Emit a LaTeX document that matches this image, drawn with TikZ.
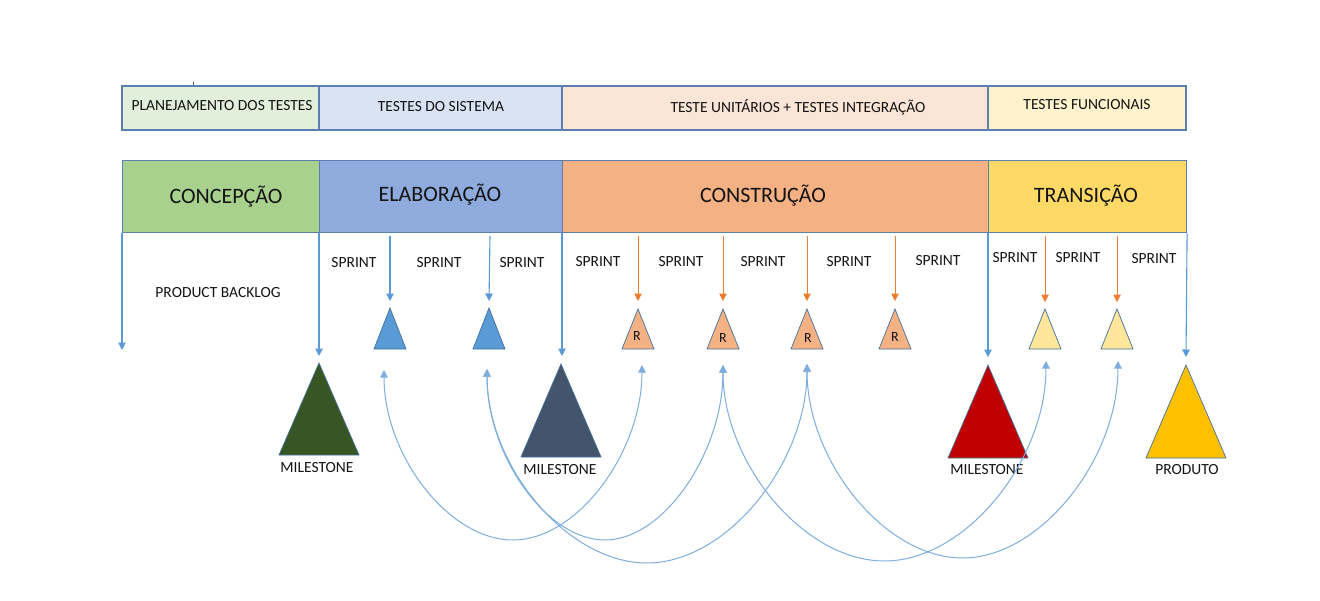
\documentclass[tikz,border=0pt]{standalone}
\usepackage{fontspec}
\setmainfont{Carlito}
\usetikzlibrary{arrows.meta,calc}
\definecolor{bord}{HTML}{5A7FB0}
\definecolor{tpA}{HTML}{E2EFDA}
\definecolor{tpB}{HTML}{DAE3F3}
\definecolor{tpC}{HTML}{FBE5D6}
\definecolor{tpD}{HTML}{FFF2CC}
\definecolor{phA}{HTML}{A9D18E}
\definecolor{phB}{HTML}{8FAADC}
\definecolor{phC}{HTML}{F4B183}
\definecolor{phD}{HTML}{FFD966}
\definecolor{blueA}{HTML}{5B9BD5}
\definecolor{orangeA}{HTML}{ED7D31}
\definecolor{arcc}{HTML}{7DAEDD}
\definecolor{triborder}{HTML}{41719C}
\definecolor{lyell}{HTML}{FFE699}
\definecolor{dgreen}{HTML}{375623}
\definecolor{slate}{HTML}{44546A}
\definecolor{dred}{HTML}{C00000}
\definecolor{gold}{HTML}{FFC000}
\definecolor{txt}{HTML}{141414}
\newcommand{\mytri}[6]{\coordinate (#1) at (#2,#3);
  \filldraw[tri, fill=#6] (#1) -- ++(-#4,#5) -- ++(2*#4,0) -- cycle;}
\begin{document}
\begin{tikzpicture}[x=1pt,y=-1pt,
  band/.style={draw=bord, line width=1.1pt},
  small/.style={font=\fontsize{15.5}{18}\selectfont, text=txt, inner sep=0pt},
  big/.style={font=\fontsize{22}{25}\selectfont, text=txt, inner sep=0pt},
  rlab/.style={font=\fontsize{14}{16}\selectfont, text=txt, inner sep=0pt},
  tri/.style={draw=triborder, line width=0.7pt, line join=miter},
  barrow/.style={draw=blueA, line width=1.1pt, -{Triangle[width=7.5pt,length=7.5pt]}},
  oarrow/.style={draw=orangeA, line width=1pt, -{Triangle[width=7.5pt,length=7.5pt]}},
  arcarrow/.style={draw=arcc, line width=1pt, {Triangle[width=7.5pt,length=7.5pt]}-{Triangle[width=7.5pt,length=7.5pt]}}]
\useasboundingbox (0,0) rectangle (1320,600);
\fill[white] (0,0) rectangle (1320,600);

% stray tick
\draw[line width=0.6pt, black!70] (193,82) -- (193,86);

% top band
\filldraw[band, fill=tpA] (122,86) rectangle (319,130);
\filldraw[band, fill=tpB] (319,86) rectangle (562,130);
\filldraw[band, fill=tpC] (562,86) rectangle (988,130);
\filldraw[band, fill=tpD] (988,86) rectangle (1186,130);
\node[small] (t1) at (222,106) {PLANEJAMENTO DOS TESTES};
\node[small] (t2) at (441,107) {TESTES DO SISTEMA};
\node[small] (t3) at (798,107) {TESTE UNITÁRIOS + TESTES INTEGRAÇÃO};
\node[small] (t4) at (1087,105) {TESTES FUNCIONAIS};

% phase band
\node[band, fill=phA, minimum width=197pt, minimum height=72pt, anchor=north west, inner sep=0pt] (p1) at (122,160) {};
\node[band, fill=phB, minimum width=243pt, minimum height=72pt, anchor=north west, inner sep=0pt] (p2) at (319,160) {};
\node[band, fill=phC, minimum width=426pt, minimum height=72pt, anchor=north west, inner sep=0pt] (p3) at (562,160) {};
\node[band, fill=phD, minimum width=198pt, minimum height=72pt, anchor=north west, inner sep=0pt] (p4) at (988,160) {};
\node[big] (n1) at (226,197) {CONCEPÇÃO};
\node[big] (n2) at (440,195) {ELABORAÇÃO};
\node[big] (n3) at (763,196) {CONSTRUÇÃO};
\node[big] (n4) at (1086,196) {TRANSIÇÃO};

% labels
\node[small] (pbl) at (218,293) {PRODUCT BACKLOG};
\node[small] (s1) at (354,263) {SPRINT};
\node[small] (s2) at (439,263) {SPRINT};
\node[small] (s3) at (522,263) {SPRINT};
\node[small] (s4) at (598,262) {SPRINT};
\node[small] (s5) at (681,262) {SPRINT};
\node[small] (s6) at (763,262) {SPRINT};
\node[small] (s7) at (849,262) {SPRINT};
\node[small] (s8) at (938,261) {SPRINT};
\node[small] (s9) at (1015,258) {SPRINT};
\node[small] (s10) at (1078,258) {SPRINT};
\node[small] (s11) at (1154,259) {SPRINT};

% small triangles
\mytri{bt1}{390}{308}{16}{41}{blueA}
\mytri{bt2}{489}{308}{16}{41}{blueA}
\mytri{rt1}{638}{309}{16}{40}{phC}
\mytri{rt2}{723}{309}{16}{40}{phC}
\mytri{rt3}{807}{309}{16}{40}{phC}
\mytri{rt4}{895}{309}{16}{40}{phC}
\mytri{yt1}{1045}{309}{16}{40}{lyell}
\mytri{yt2}{1117}{309}{16}{40}{lyell}
\node[rlab] (r1) at (637,336) {R};
\node[rlab] (r2) at (723,338) {R};
\node[rlab] (r3) at (808,338) {R};
\node[rlab] (r4) at (895,337) {R};

% big triangles
\mytri{m1}{319}{363}{40}{92}{dgreen}
\mytri{m2}{561}{364}{40}{93}{slate}
\mytri{m3}{988}{365}{40}{93}{dred}
\mytri{m4}{1186}{365}{40}{93}{gold}
\node[small] (ml1) at (317,468) {MILESTONE};
\node[small] (ml2) at (560,470) {MILESTONE};
\node[small] (ml3) at (987,470) {MILESTONE};
\node[small] (ml4) at (1187,470) {PRODUTO};

% arrow end coordinates
\coordinate (e0) at (122,350);
\coordinate (e1) at (319,356);
\coordinate (e2) at (562,356);
\coordinate (e3) at (988,357);
\coordinate (e4) at (1186,357);
\coordinate (q1) at (390,236);
\coordinate (q2) at (490,236);
\coordinate (q3) at (638,236);
\coordinate (q4) at (723,236);
\coordinate (q5) at (807,236);
\coordinate (q6) at (895,236);
\coordinate (q7) at (1045,236);
\coordinate (q8) at (1117,236);

\draw[barrow] (p1.south west) -- (e0);
\draw[barrow] (p2.south west) -- (e1);
\draw[barrow] (p3.south west) -- (e2);
\draw[barrow] (p4.south west) -- (e3);
\draw[barrow] (p4.south east) -- (e4);
\draw[barrow] (q1) -- ($(bt1)+(0,-7)$);
\draw[barrow] (q2) -- ($(bt2)+(0,-7)$);
\draw[oarrow] (q3) -- ($(rt1)+(0,-8)$);
\draw[oarrow] (q4) -- ($(rt2)+(0,-8)$);
\draw[oarrow] (q5) -- ($(rt3)+(0,-8)$);
\draw[oarrow] (q6) -- ($(rt4)+(0,-8)$);
\draw[oarrow] (q7) -- ($(yt1)+(0,-7)$);
\draw[oarrow] (q8) -- ($(yt2)+(0,-7)$);

% arc endpoints
\coordinate (a1) at (384,370);
\coordinate (a2) at (487,369);
\coordinate (a3) at (642,365);
\coordinate (a4) at (723,365);
\coordinate (a5) at (807,364);
\coordinate (a6) at (1046,361);
\coordinate (a7) at (1118,361);
\coordinate (b1) at (513,540);
\coordinate (b2) at (605,540);
\coordinate (b3) at (647,563);
\coordinate (b4) at (884.5,561);
\coordinate (b5) at (962.5,558);

\draw[arcarrow] (a1) .. controls (384,455) and (448.5,540) .. (b1) .. controls (577.5,540) and (642,452) .. (a3);
\draw[arcarrow] (a2) .. controls (487,455) and (546,540) .. (b2) .. controls (664,540) and (723,452) .. (a4);
\draw[arcarrow] (a2) .. controls (487,466) and (567,563) .. (b3) .. controls (727,563) and (807,463) .. (a5);
\draw[arcarrow] (a4) .. controls (723,463) and (803.75,561) .. (b4) .. controls (965.25,561) and (1046,461) .. (a6);
\draw[arcarrow] (a5) .. controls (807,461) and (884.75,558) .. (b5) .. controls (1040.25,558) and (1118,459.5) .. (a7);
\end{tikzpicture}
\end{document}
